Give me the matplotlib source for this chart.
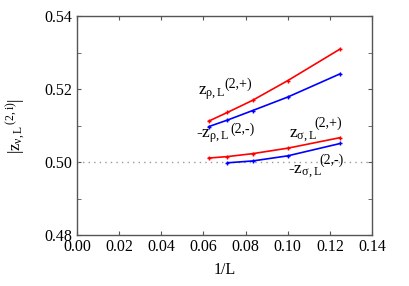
import matplotlib
matplotlib.use("Agg")
import matplotlib.pyplot as plt
from matplotlib.ticker import MultipleLocator

plt.rcParams['font.family'] = ['Liberation Serif', 'DejaVu Serif']
plt.rcParams['mathtext.fontset'] = 'custom'
plt.rcParams['mathtext.rm'] = 'Liberation Serif'
plt.rcParams['mathtext.it'] = 'Liberation Serif'
plt.rcParams['mathtext.default'] = 'regular'

# 1/L for L = 16, 14, 12, 10, 8
inv_L = [1 / 16, 1 / 14, 1 / 12, 1 / 10, 1 / 8]
inv_L_short = [1 / 14, 1 / 12, 1 / 10, 1 / 8]

z_rho_plus = [0.5112, 0.5136, 0.5169, 0.5223, 0.5310]
z_rho_minus = [0.5097, 0.5115, 0.5141, 0.5178, 0.5242]
z_sigma_plus = [0.5011, 0.5015, 0.5023, 0.5038, 0.5067]
z_sigma_minus = [0.4998, 0.5003, 0.5017, 0.5051]

fig = plt.figure(figsize=(4.09, 2.86), dpi=100)
ax = fig.add_axes([0.188, 0.178, 0.7215, 0.766])

ax.axhline(0.5, color='#999999', lw=1.0, ls=(0, (1, 3)))

kw = dict(lw=1.2, marker='+', ms=3.5, mew=1.0)
ax.plot(inv_L, z_rho_plus, color='#ff0000', **kw)
ax.plot(inv_L, z_rho_minus, color='#0000ff', **kw)
ax.plot(inv_L, z_sigma_plus, color='#ff0000', **kw)
ax.plot(inv_L_short, z_sigma_minus, color='#0000ff', **kw)

ax.set_xlim(0, 0.14)
ax.set_ylim(0.48, 0.54)
ax.xaxis.set_major_locator(MultipleLocator(0.02))
ax.yaxis.set_major_locator(MultipleLocator(0.02))
ax.yaxis.set_minor_locator(MultipleLocator(0.01))
ax.xaxis.set_major_formatter(plt.FormatStrFormatter('%.2f'))
ax.yaxis.set_major_formatter(plt.FormatStrFormatter('%.2f'))
ax.tick_params(which='both', direction='in', top=True, right=True,
               color='#555555', labelsize=11.5, pad=3, length=3)
for s in ax.spines.values():
    s.set_color('#555555')
    s.set_linewidth(1.0)

ax.set_xlabel('1/L', fontsize=11.5, labelpad=5)
ax.set_ylabel(r'$|z_{\nu,L}{}^{\,(2,i)}|$', fontsize=12)
ax.yaxis.set_label_coords(-0.165, 0.5)

# curve labels: base symbol and superscript drawn separately (gnuplot style)
fs = 12.5
ss = 10
ax.text(0.0574, 0.5184, r'$z_{\rho,L}$', fontsize=fs)
ax.text(0.0702, 0.5203, '(2,+)', fontsize=ss)
ax.text(0.0565, 0.5066, r'-$z_{\rho,L}$', fontsize=fs)
ax.text(0.0729, 0.5080, '(2,-)', fontsize=ss)
ax.text(0.1005, 0.5069, r'$z_{\sigma,L}$', fontsize=fs)
ax.text(0.1126, 0.5097, '(2,+)', fontsize=ss)
ax.text(0.1000, 0.4970, r'-$z_{\sigma,L}$', fontsize=fs)
ax.text(0.1152, 0.4994, '(2,-)', fontsize=ss)

fig.savefig('out.png', dpi=100)
